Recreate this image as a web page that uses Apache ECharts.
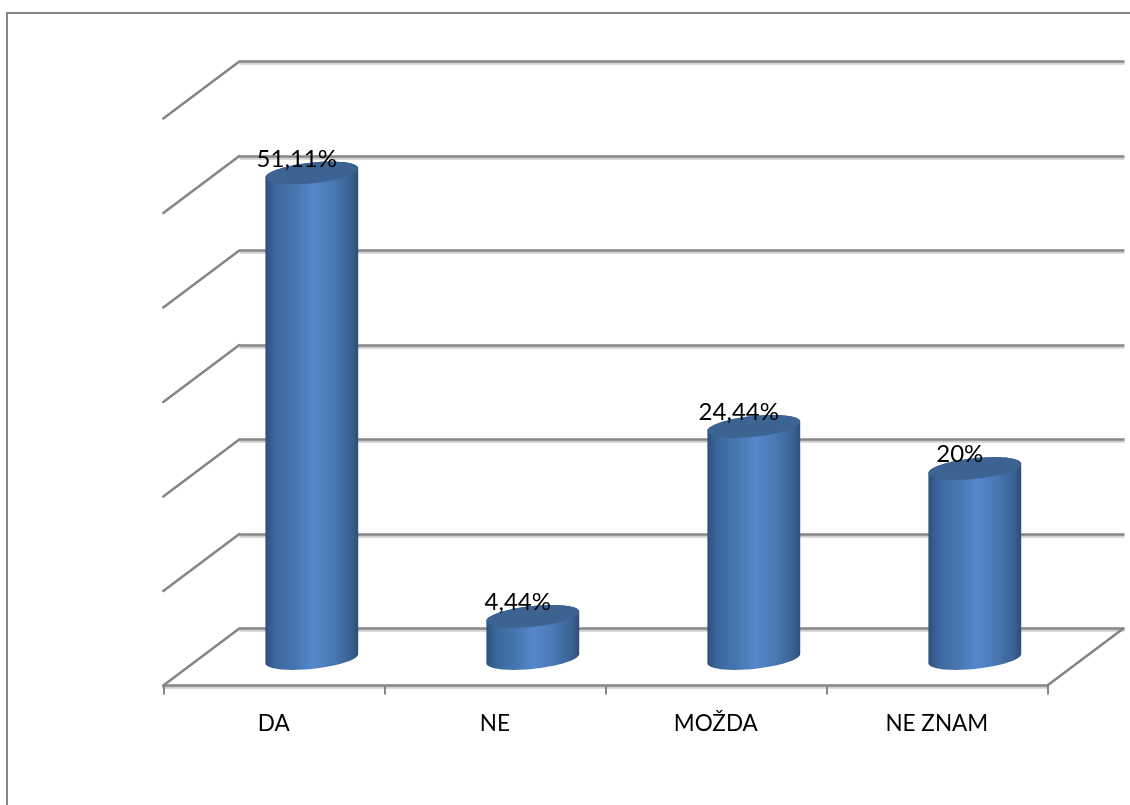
<!DOCTYPE html>
<html><head><meta charset="utf-8">
<style>html,body{margin:0;padding:0;background:#fff}#c{width:1130px;height:805px}</style>
<script src="https://cdn.jsdelivr.net/npm/echarts@6/dist/echarts.min.js"></script>
</head><body><div id="c"></div>
<script>
const categories = ['DA', 'NE', 'MOŽDA', 'NE ZNAM'];
const values = [51.11, 4.44, 24.44, 20];
const valueLabels = ['51,11%', '4,44%', '24,44%', '20%'];
const wallTicks = [0, 10, 20, 30, 40, 50, 60];

const LINE = '#868686';
const DEPTH_X = 76, DEPTH_Y = -57;
const FONT = 'Lato';
const grids = [
  { left: 239.5, top: 61.3, width: 885, height: 567 },
  { left: 163.3, top: 118.5, width: 884, height: 567 },
  { left: 201.3, top: 88.5, width: 884, height: 570 }
];
const shadow = { shadowColor: '#cfcfcf', shadowOffsetY: 2, shadowBlur: 0 };

function ellipsePoints(cx, cy, rx, ry, slope, from, to, n) {
  const pts = [];
  for (let i = 0; i <= n; i++) {
    const t = from + (to - from) * i / n;
    pts.push([cx + rx * Math.cos(t), cy + ry * Math.sin(t) - slope * rx * Math.cos(t)]);
  }
  return pts;
}

function renderCylinder(params, api) {
  const i = api.value(0), v = api.value(1);
  const top = api.coord([i, v]), base = api.coord([i, 0]);
  const rx = api.size([1, 0])[0] * 0.21, ry = 10.4, slope = 0.1;
  const cx = top[0];
  const lower = ellipsePoints(cx, base[1], rx, ry, slope, 0, Math.PI, 48);
  const upper = ellipsePoints(cx, top[1], rx, ry, slope, Math.PI, 2 * Math.PI, 48);
  const lid = ellipsePoints(cx, top[1], rx, ry, slope, 0, 2 * Math.PI, 96);
  return {
    type: 'group',
    children: [
      { type: 'polygon', shape: { points: lower.concat(upper) },
        style: { fill: new echarts.graphic.LinearGradient(0, 0, 1, 0, [
          { offset: 0, color: '#2e5079' }, { offset: 0.1, color: '#3b669b' },
          { offset: 0.3, color: '#4675ae' }, { offset: 0.52, color: '#5488cb' },
          { offset: 0.75, color: '#4876b0' }, { offset: 0.92, color: '#3a6293' },
          { offset: 1, color: '#2d4e76' }
        ]) } },
      { type: 'polygon', shape: { points: lid }, style: { fill: '#3c6391' } },
      { type: 'text', x: cx - 15, y: top[1] - 14,
        style: { text: valueLabels[i], fill: '#000', font: '24px ' + FONT, align: 'center', verticalAlign: 'middle' } }
    ]
  };
}

function renderWallEdge(params, api) {
  const i = api.value(0), v = api.value(1), side = api.value(2);
  const p = api.coord([i, v]);
  const x = p[0] + side * api.size([1, 0])[0] / 2;
  return { type: 'line', shape: { x1: x, y1: p[1], x2: x + DEPTH_X, y2: p[1] + DEPTH_Y },
    style: { stroke: LINE, lineWidth: 2.6, lineCap: 'round' } };
}

const edgeData = wallTicks.map(t => [0, t, -1]).concat([[categories.length - 1, 0, 1]]);

const chart = echarts.init(document.getElementById('c'), null, { renderer: 'canvas' });
chart.setOption({
  animation: false,
  backgroundColor: '#fff',
  graphic: [{ type: 'polyline', silent: true, z: 0,
    shape: { points: [[7, 805], [7, 13], [1130, 13]] },
    style: { stroke: LINE, lineWidth: 2, fill: null } }],
  grid: grids,
  xAxis: [
    { gridIndex: 0, type: 'category', data: categories, show: false },
    { gridIndex: 1, type: 'category', data: categories,
      axisLine: { show: true, lineStyle: { color: LINE, width: 2.5, ...shadow } },
      axisTick: { show: true, length: 9, lineStyle: { color: LINE, width: 2 } },
      axisLabel: { color: '#000', fontFamily: FONT, fontSize: 22.5, margin: 27 } },
    { gridIndex: 2, type: 'category', data: categories, show: false }
  ],
  yAxis: [
    { gridIndex: 0, type: 'value', min: 0, max: 60, interval: 10,
      axisLine: { show: false }, axisTick: { show: false }, axisLabel: { show: false },
      splitLine: { show: true, lineStyle: { color: LINE, width: 2.5, ...shadow } } },
    { gridIndex: 1, type: 'value', min: 0, max: 60, interval: 10,
      axisLine: { show: false }, axisTick: { show: false }, axisLabel: { show: false }, splitLine: { show: false } },
    { gridIndex: 2, type: 'value', min: 0, max: 60, interval: 10, show: false, splitLine: { show: false } }
  ],
  series: [
    { type: 'custom', xAxisIndex: 1, yAxisIndex: 1, z: 1, silent: true, clip: false,
      renderItem: renderWallEdge, data: edgeData },
    { type: 'custom', xAxisIndex: 2, yAxisIndex: 2, z: 5, silent: true, clip: false,
      renderItem: renderCylinder, data: values.map((v, i) => [i, v]) }
  ]
});
</script></body></html>
